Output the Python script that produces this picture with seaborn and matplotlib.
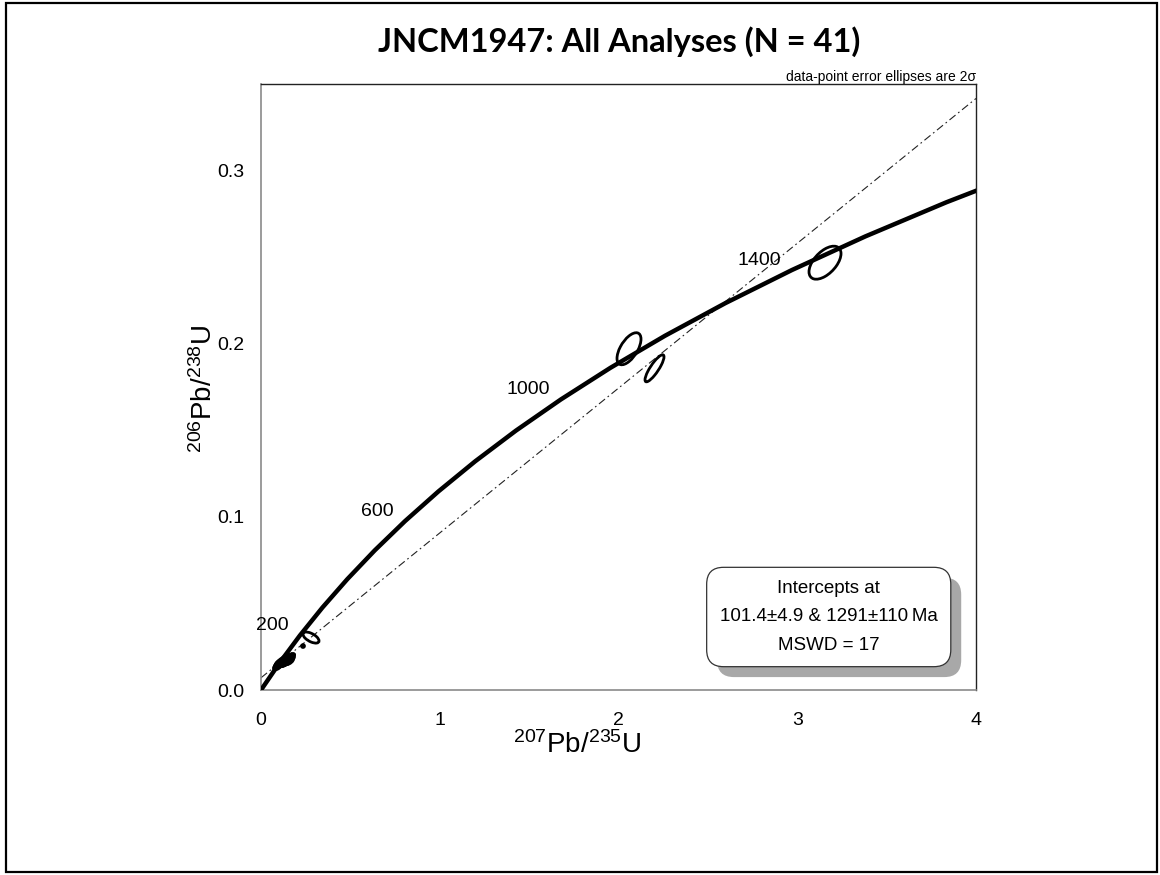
import matplotlib
matplotlib.use("Agg")
import matplotlib.pyplot as plt
import matplotlib.patheffects as pe
from matplotlib.patches import Ellipse, Rectangle
from matplotlib.ticker import MultipleLocator, FormatStrFormatter
import numpy as np
import pandas as pd
import seaborn as sns

# concordia curve in 100 Ma steps (207Pb/235U, 206Pb/238U)
conc_age = [0, 100, 200, 300, 400, 500, 600, 700, 800, 900,
            1000, 1100, 1200, 1300, 1400, 1500, 1600, 1700]
conc_x = [0.0, 0.1035, 0.2177, 0.3437, 0.4828, 0.6363, 0.8056, 0.9925, 1.1987,
          1.4263, 1.6774, 1.9545, 2.2603, 2.5977, 2.9701, 3.3809, 3.8344, 4.3347]
conc_y = [0.0, 0.01563, 0.03151, 0.04764, 0.06402, 0.08065, 0.09754, 0.11470,
          0.13213, 0.14983, 0.16781, 0.18607, 0.20461, 0.22344, 0.24256,
          0.26198, 0.28170, 0.30172]

label_ages = [200, 600, 1000, 1400]

# discordia: lower and upper intercepts (101.4 Ma, 1291 Ma)
int_x = [0.1050, 2.5660]
int_y = [0.01585, 0.2217]

# the 41 analyses: centre, 2-sigma half-extent in x and y, error correlation
ell_x = [2.0587, 2.2014, 3.1552, 0.2797, 0.235,
         0.100, 0.104, 0.108, 0.110, 0.113, 0.116, 0.118, 0.121, 0.123, 0.125,
         0.127, 0.129, 0.131, 0.133, 0.135, 0.137, 0.139, 0.141, 0.143, 0.145,
         0.147, 0.149, 0.151, 0.153, 0.155, 0.157, 0.159, 0.162, 0.165, 0.168,
         0.094, 0.090, 0.097, 0.106, 0.119, 0.140]
ell_y = [0.1971, 0.1858, 0.2468, 0.0303, 0.0254,
         0.0152, 0.0158, 0.0150, 0.0162, 0.0155, 0.0160, 0.0149, 0.0165, 0.0157, 0.0152,
         0.0168, 0.0160, 0.0155, 0.0171, 0.0163, 0.0158, 0.0175, 0.0166, 0.0160, 0.0178,
         0.0169, 0.0162, 0.0182, 0.0172, 0.0165, 0.0185, 0.0176, 0.0190, 0.0180, 0.0195,
         0.0140, 0.0133, 0.0145, 0.0145, 0.0172, 0.0185]
ell_sx = [0.0671, 0.0531, 0.0895, 0.0448, 0.008,
          0.022, 0.024, 0.020, 0.026, 0.023, 0.021, 0.025, 0.022, 0.028, 0.020,
          0.024, 0.023, 0.026, 0.021, 0.025, 0.022, 0.024, 0.027, 0.021, 0.023,
          0.025, 0.020, 0.024, 0.022, 0.026, 0.021, 0.023, 0.024, 0.022, 0.020,
          0.021, 0.020, 0.023, 0.024, 0.022, 0.025]
ell_sy = [0.00925, 0.0078, 0.00954, 0.0032, 0.0008,
          0.0017, 0.0018, 0.0016, 0.0019, 0.0017, 0.0018, 0.0016, 0.0018, 0.0020, 0.0016,
          0.0018, 0.0017, 0.0019, 0.0016, 0.0018, 0.0017, 0.0018, 0.0019, 0.0016, 0.0017,
          0.0018, 0.0016, 0.0018, 0.0017, 0.0019, 0.0016, 0.0017, 0.0018, 0.0017, 0.0016,
          0.0016, 0.0016, 0.0017, 0.0018, 0.0017, 0.0018]
ell_rho = [0.6, 0.85, 0.55, -0.6, 0.0,
           0.6, 0.7, 0.5, 0.6, 0.7, 0.5, 0.6, 0.7, 0.6, 0.5,
           0.6, 0.7, 0.6, 0.5, 0.6, 0.7, 0.6, 0.5, 0.6, 0.7,
           0.6, 0.5, 0.6, 0.7, 0.6, 0.5, 0.6, 0.7, 0.6, 0.5,
           0.6, 0.5, 0.6, 0.7, 0.6, 0.5]

spots = pd.DataFrame({'x': ell_x, 'y': ell_y, 'sx': ell_sx, 'sy': ell_sy, 'rho': ell_rho})

sns.set_theme(style='white')
plt.rcParams['font.family'] = ['Liberation Sans', 'DejaVu Sans']
plt.rcParams['mathtext.default'] = 'regular'
plt.rcParams['text.color'] = 'black'
plt.rcParams['axes.labelcolor'] = 'black'
plt.rcParams['xtick.labelcolor'] = 'black'
plt.rcParams['ytick.labelcolor'] = 'black'

fig = plt.figure(figsize=(11.6, 8.75), dpi=100)
ax = fig.add_axes([0.225, 0.2114, 0.6164, 0.6926])

# concordia
sns.lineplot(x=conc_x, y=conc_y, sort=False, estimator=None, color='black',
             linewidth=3.2, ax=ax, zorder=3)

# discordia through the two intercepts
ax.axline((int_x[0], int_y[0]), (int_x[1], int_y[1]), color='#222222', linewidth=0.8,
          dashes=[7, 3, 1.5, 3], zorder=2)

# age labels on the concordia
for age in label_ages:
    i = conc_age.index(age)
    ax.annotate(str(age), (conc_x[i], conc_y[i]), xytext=(-8, 7), textcoords='offset points',
                ha='right', va='center', fontsize=14)


def cov_ellipse(sx, sy, rho):
    cov = np.array([[sx * sx, rho * sx * sy], [rho * sx * sy, sy * sy]])
    vals, vecs = np.linalg.eigh(cov)
    w = 2 * np.sqrt(vals[1])
    h = 2 * np.sqrt(max(vals[0], 0))
    ang = np.degrees(np.arctan2(vecs[1, 1], vecs[0, 1]))
    return w, h, ang


for _, r in spots.iterrows():
    w, h, ang = cov_ellipse(r.sx, r.sy, r.rho)
    ax.add_patch(Ellipse((r.x, r.y), w, h, angle=ang, fill=False, ec='black',
                         lw=2.0, zorder=4))

ax.set_xlim(0, 4)
ax.set_ylim(0, 0.35)
ax.xaxis.set_major_locator(MultipleLocator(1))
ax.xaxis.set_minor_locator(MultipleLocator(0.5))
ax.yaxis.set_major_locator(MultipleLocator(0.1))
ax.yaxis.set_minor_locator(MultipleLocator(0.05))
ax.yaxis.set_major_formatter(FormatStrFormatter('%.1f'))
ax.tick_params(which='both', direction='in', color='#8a8a8a', top=False, right=False,
               labelsize=14)
ax.tick_params(axis='x', which='major', pad=16)
ax.tick_params(axis='y', which='major', pad=12)
ax.tick_params(which='major', length=6, width=1)
ax.tick_params(which='minor', length=4, width=1)
for s in ['left', 'bottom']:
    ax.spines[s].set_color('#8a8a8a')
    ax.spines[s].set_linewidth(1.2)
for s in ['top', 'right']:
    ax.spines[s].set_color('#222222')
    ax.spines[s].set_linewidth(1.0)

ax.set_xlabel('$^{207}$Pb/$^{235}$U', fontsize=20)
ax.set_ylabel('$^{206}$Pb/$^{238}$U', fontsize=20)
ax.xaxis.set_label_coords(0.442, -0.068)
ax.yaxis.set_label_coords(-0.060, 0.497)

# intercept box with drop shadow
box_txt = 'Intercepts at\n101.4\u00b14.9 & 1291\u00b1110\u2009Ma\nMSWD = 17'
t = ax.text(0.794, 0.1205, box_txt, color='black', ha='center', va='center', fontsize=13.5,
            linespacing=1.85, transform=ax.transAxes, zorder=6,
            bbox=dict(boxstyle='round,pad=0.7,rounding_size=0.9', fc='white',
                      ec='#333333', lw=0.9))
t.get_bbox_patch().set_path_effects([
    pe.SimplePatchShadow(offset=(7.5, -7.5), shadow_rgbFace='#a8a8a8', alpha=1.0),
    pe.Normal()])

fig.text(0.5336, 0.953, 'JNCM1947: All Analyses (N = 41)', ha='center', va='center',
         fontsize=23.5, fontweight='bold', family=['Lato', 'DejaVu Sans'])
fig.text(0.8414, 0.912, 'data-point error ellipses are 2\u03c3', ha='right', va='center',
         fontsize=10)

# slide frame
fig.add_artist(Rectangle((6 / 1160, 3 / 875), 1151 / 1160, 869 / 875,
                         transform=fig.transFigure, fill=False, ec='black', lw=1.6))

fig.savefig('out.png', dpi=100)
